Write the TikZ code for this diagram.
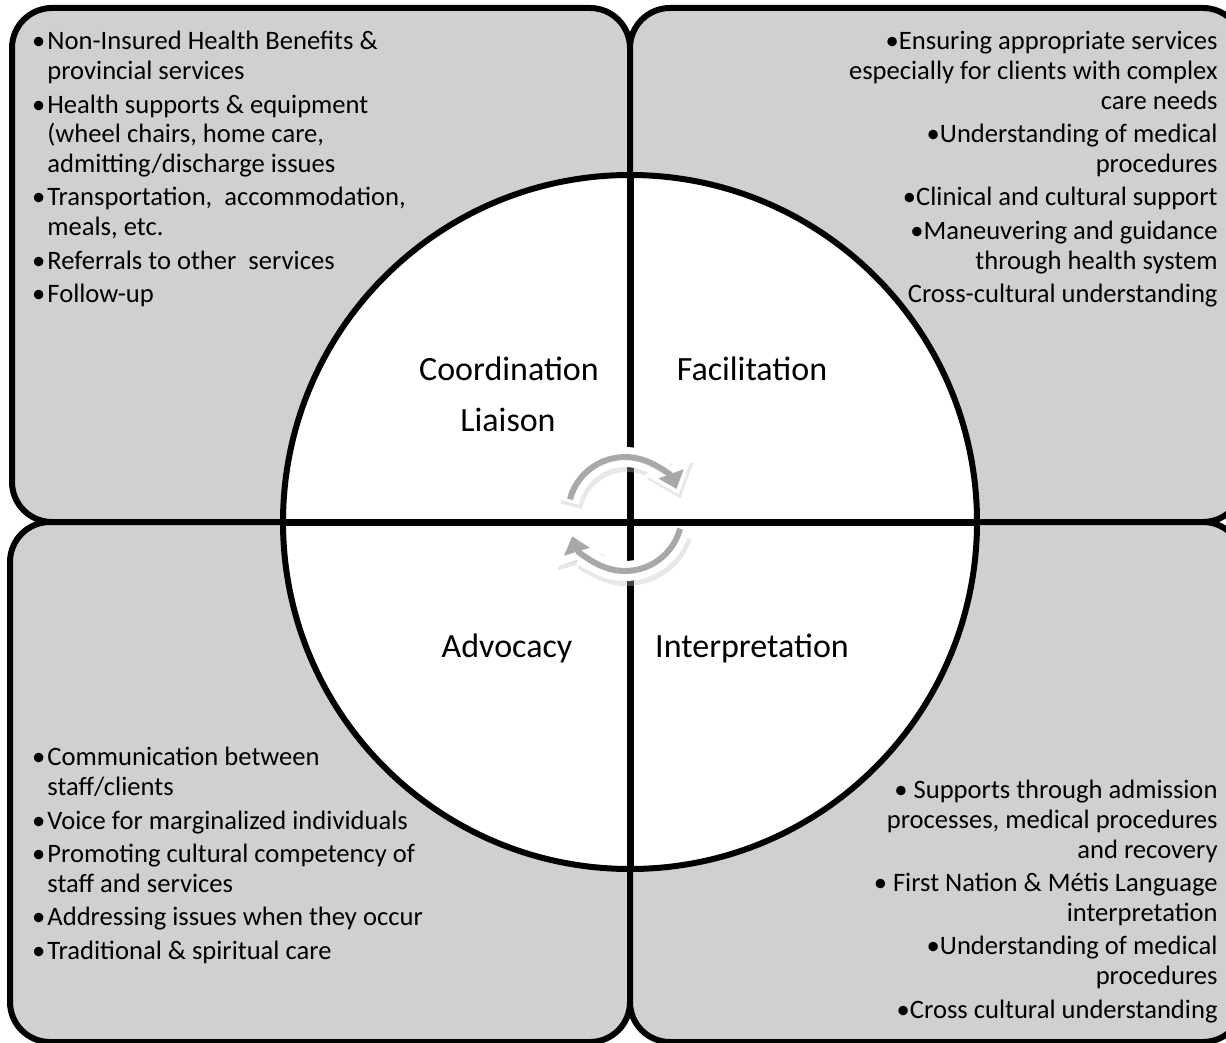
\documentclass[tikz,border=0pt]{standalone}
\usepackage{fontspec}
\setmainfont{Carlito}
\usetikzlibrary{arrows.meta}
\definecolor{boxgray}{RGB}{208,208,208}
\definecolor{swirlgray}{RGB}{168,168,168}
\tikzset{
  quad/.style={draw=black,line width=3pt,fill=boxgray,rounded corners=20pt},
  wheel/.style={draw=black,line width=3pt,fill=white},
  spoke/.style={draw=black,line width=3.5pt},
  swirlshade/.style={draw=black!25,line width=11pt,opacity=0.35,-{Triangle[length=15pt,width=24pt]}},
  swirlback/.style={draw=white,line width=10pt,-{Triangle[length=15pt,width=24pt]}},
  swirl/.style={draw=swirlgray,line width=3pt,shorten >=3pt,-{Triangle[length=8pt,width=13pt]}},
  bodytext/.style={font=\fontsize{13.3}{14.85}\selectfont,inner sep=0pt},
  leftlist/.style={bodytext,align=left,anchor=north west},
  rightlist/.style={bodytext,align=right,anchor=north east},
  role/.style={font=\fontsize{17}{20}\selectfont,inner sep=0pt}
}
\begin{document}
\begin{tikzpicture}[x=0.5pt,y=-0.5pt]
    \useasboundingbox (0,0) rectangle (1226,1043);
    \clip (0,0) rectangle (1226,1043);

    \draw[quad] (12,8) rectangle (630,522);
    \draw[quad] (630,8) rectangle (1243,522);
    \draw[quad] (10,522) rectangle (630,1042);
    \draw[quad] (630,522) rectangle (1243,1042);

    \coordinate (hub) at (630,522);
    \draw[wheel] (hub) circle (347);
    \draw[spoke] (630,175) -- (630,869);
    \draw[spoke] (283,522) -- (977,522);

    \coordinate (turn) at (625,514);
    \draw[swirlshade] ([shift={(-168:57)}]turn) ++(2,4) arc[start angle=-168,end angle=-20,radius=57];
    \draw[swirlshade] ([shift={(18:57)}]turn) ++(2,4) arc[start angle=18,end angle=163,radius=57];
    \draw[swirlback] ([shift={(-168:57)}]turn) arc[start angle=-168,end angle=-20,radius=57];
    \draw[swirlback] ([shift={(18:57)}]turn) arc[start angle=18,end angle=163,radius=57];
    \draw[swirl] ([shift={(-165:57)}]turn) arc[start angle=-165,end angle=-20,radius=57];
    \draw[swirl] ([shift={(15:57)}]turn) arc[start angle=15,end angle=163,radius=57];

    \node[role] (coord) at (509,369) {Coordination};
    \node[role] (liaison) at (508,420) {Liaison};
    \node[role] (facil) at (752,369) {Facilitation};
    \node[role] (advoc) at (507,648) {Advocacy};
    \node[role] (interp) at (752,648) {Interpretation};

    \node[leftlist] (coordlist) at (47,31) {%
        \llap{•\kern1pt}Non-Insured Health Benefits \&\\
        provincial services\\[1.9pt]
        \llap{•\kern1pt}Health supports \& equipment\\
        (wheel chairs, home care,\\
        admitting/discharge issues\\[1.9pt]
        \llap{•\kern1pt}Transportation,\ \ accommodation,\\
        meals, etc.\\[1.9pt]
        \llap{•\kern1pt}Referrals to other\ \ services\\[1.9pt]
        \llap{•\kern1pt}Follow-up};

    \node[rightlist] (facillist) at (1218,31) {%
        •Ensuring appropriate services\\
        especially for clients with complex\\
        care needs\\[1.9pt]
        •Understanding of medical\\
        procedures\\[1.9pt]
        •Clinical and cultural support\\[1.9pt]
        •Maneuvering and guidance\\
        through health system\\[1.9pt]
        Cross-cultural understanding};

    \node[leftlist] (advoclist) at (47,747) {%
        \llap{•\kern1pt}Communication between\\
        staff/clients\\[1.9pt]
        \llap{•\kern1pt}Voice for marginalized individuals\\[1.9pt]
        \llap{•\kern1pt}Promoting cultural competency of\\
        staff and services\\[1.9pt]
        \llap{•\kern1pt}Addressing issues when they occur\\[1.9pt]
        \llap{•\kern1pt}Traditional \& spiritual care};

    \node[rightlist] (interplist) at (1218,780) {%
        • Supports through admission\\
        processes, medical procedures\\
        and recovery\\[1.9pt]
        • First Nation \& Métis Language\\
        interpretation\\[1.9pt]
        •Understanding of medical\\
        procedures\\[1.9pt]
        •Cross cultural understanding};

\end{tikzpicture}
\end{document}
